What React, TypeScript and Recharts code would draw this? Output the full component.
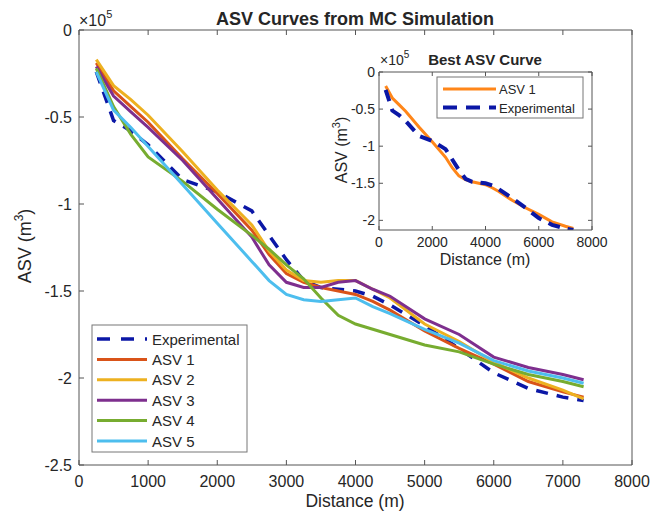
import { LineChart, Line, XAxis, YAxis } from "recharts";

// distances along the profile (m) and ASV values in units of 1e5 m^3
const distance = [250, 500, 750, 1000, 1500, 2000, 2500, 2750, 3000, 3250, 3500, 3750, 4000, 4250, 4500, 5000, 5500, 6000, 6500, 7000, 7300];
const experimental = [-0.24, -0.52, -0.58, -0.66, -0.86, -0.93, -1.04, -1.18, -1.32, -1.44, -1.48, -1.49, -1.5, -1.53, -1.58, -1.7, -1.83, -1.97, -2.06, -2.11, -2.13];
const asv1 = [-0.19, -0.35, -0.44, -0.53, -0.74, -0.94, -1.15, -1.29, -1.4, -1.45, -1.48, -1.5, -1.52, -1.56, -1.61, -1.73, -1.83, -1.92, -2.02, -2.08, -2.11];
const asv2 = [-0.17, -0.32, -0.4, -0.49, -0.7, -0.92, -1.12, -1.27, -1.38, -1.44, -1.45, -1.44, -1.44, -1.49, -1.54, -1.69, -1.79, -1.91, -2.0, -2.07, -2.12];
const asv3 = [-0.21, -0.38, -0.47, -0.56, -0.75, -0.97, -1.19, -1.35, -1.45, -1.48, -1.48, -1.45, -1.44, -1.49, -1.53, -1.66, -1.75, -1.88, -1.94, -1.98, -2.01];
const asv4 = [-0.22, -0.44, -0.6, -0.73, -0.87, -1.03, -1.18, -1.26, -1.35, -1.43, -1.54, -1.64, -1.69, -1.72, -1.75, -1.81, -1.85, -1.92, -1.98, -2.02, -2.05];
const asv5 = [-0.24, -0.46, -0.56, -0.67, -0.89, -1.11, -1.33, -1.44, -1.52, -1.55, -1.56, -1.55, -1.54, -1.59, -1.63, -1.72, -1.8, -1.9, -1.96, -2.0, -2.03];

const xTicks = [0, 1000, 2000, 3000, 4000, 5000, 6000, 7000, 8000];
const yTicks = [0, -0.5, -1, -1.5, -2, -2.5];
const insetXTicks = [0, 2000, 4000, 6000, 8000];
const insetYTicks = [0, -0.5, -1, -1.5, -2];

const FONT = "'Liberation Sans', Arial, Helvetica, sans-serif";
const TEXT = "#262626";
const AXIS = "#555555";

const series = [
  { key: "exp", name: "Experimental", values: experimental, color: "#0B17A6", dash: "12 9" },
  { key: "asv1", name: "ASV 1", values: asv1, color: "#D95319" },
  { key: "asv2", name: "ASV 2", values: asv2, color: "#EDB120" },
  { key: "asv3", name: "ASV 3", values: asv3, color: "#7E2F8E" },
  { key: "asv4", name: "ASV 4", values: asv4, color: "#77AC30" },
  { key: "asv5", name: "ASV 5", values: asv5, color: "#4DBEEE" },
];

const insetSeries = [
  { key: "asv1", name: "ASV 1", values: asv1, color: "#FF8619" },
  { key: "exp", name: "Experimental", values: experimental, color: "#0B17A6", dash: "12 8" },
];

const rows = distance.map((d, i) => {
  const r: Record<string, number> = { d };
  series.forEach((s) => (r[s.key] = s.values[i]));
  return r;
});

const fmt = (v: number) => String(v);
const noTick = () => <g />;

function MainChart() {
  return (
    <LineChart width={668} height={521} data={rows} margin={{ top: 29, right: 35, bottom: 26, left: 19 }}>
      <XAxis dataKey="d" type="number" domain={[0, 8000]} ticks={xTicks} height={30}
        tickSize={-5} tickMargin={16} stroke={AXIS}
        tick={{ fontSize: 16, fill: TEXT, fontFamily: FONT }} />
      <XAxis xAxisId="top" orientation="top" dataKey="d" type="number" domain={[0, 8000]} ticks={xTicks}
        height={1} tickSize={-5} stroke={AXIS} tick={noTick} />
      <YAxis type="number" domain={[-2.5, 0]} ticks={yTicks} width={60} tickSize={-5} tickMargin={12}
        stroke={AXIS} tickFormatter={fmt} tick={{ fontSize: 16, fill: TEXT, fontFamily: FONT }} />
      <YAxis yAxisId="right" orientation="right" type="number" domain={[-2.5, 0]} ticks={yTicks}
        width={1} tickSize={-5} stroke={AXIS} tick={noTick} />
      {series.map((s) => (
        <Line key={s.key} dataKey={s.key} type="linear" stroke={s.color} strokeWidth={s.dash ? 3.5 : 3}
          strokeDasharray={s.dash} dot={false} activeDot={false} isAnimationActive={false} />
      ))}
    </LineChart>
  );
}

function InsetChart() {
  return (
    <LineChart width={285} height={222} data={rows} margin={{ top: 23, right: 27, bottom: 10, left: 4 }}>
      <XAxis dataKey="d" type="number" domain={[0, 8000]} ticks={insetXTicks} height={30}
        tickSize={-4} tickMargin={11} stroke={AXIS}
        tick={{ fontSize: 14, fill: TEXT, fontFamily: FONT }} />
      <XAxis xAxisId="top" orientation="top" dataKey="d" type="number" domain={[0, 8000]} ticks={insetXTicks}
        height={1} tickSize={-4} stroke={AXIS} tick={noTick} />
      <YAxis type="number" domain={[-2.13, 0]} ticks={insetYTicks} width={40} tickSize={-4} tickMargin={8}
        allowDataOverflow stroke={AXIS} tickFormatter={fmt}
        tick={{ fontSize: 14, fill: TEXT, fontFamily: FONT }} />
      <YAxis yAxisId="right" orientation="right" type="number" domain={[-2.13, 0]} ticks={insetYTicks}
        allowDataOverflow width={1} tickSize={-4} stroke={AXIS} tick={noTick} />
      {insetSeries.map((s) => (
        <Line key={s.key} dataKey={s.key} type="linear" stroke={s.color} strokeWidth={s.dash ? 4 : 3}
          strokeDasharray={s.dash} dot={false} activeDot={false} isAnimationActive={false} />
      ))}
    </LineChart>
  );
}

function Labels() {
  return (
    <svg width={668} height={521} style={{ position: "absolute", left: 0, top: 0, pointerEvents: "none" }}
      fontFamily={FONT} fill={TEXT}>
      {/* main chart text */}
      <text x={355} y={25} fontSize={18} fontWeight="bold" textAnchor="middle">ASV Curves from MC Simulation</text>
      <text x={79} y={26} fontSize={16}>×10<tspan fontSize={11} dy={-8}>5</tspan></text>
      <text x={355} y={507} fontSize={17.5} textAnchor="middle">Distance (m)</text>
      <text transform="translate(31,246) rotate(-90)" fontSize={18} textAnchor="middle">
        ASV (m<tspan fontSize={12} dy={-8}>3</tspan><tspan dy={8}>)</tspan>
      </text>

      {/* main legend */}
      <rect x={92} y={325} width={155} height={127} fill="#fff" stroke="#777" strokeWidth={1} />
      {series.map((s, i) => {
        const y = 339 + i * 20.4;
        return (
          <g key={s.key}>
            <line x1={97} x2={147} y1={y} y2={y} stroke={s.color} strokeWidth={s.dash ? 3.5 : 3}
              strokeDasharray={s.dash ? "13 11" : undefined} />
            <text x={152} y={y + 5.5} fontSize={15}>{s.name}</text>
          </g>
        );
      })}

      {/* inset text */}
      <text x={485} y={65} fontSize={15} fontWeight="bold" textAnchor="middle">Best ASV Curve</text>
      <text x={380} y={65} fontSize={14}>×10<tspan fontSize={10} dy={-7}>5</tspan></text>
      <text x={485} y={265} fontSize={16} textAnchor="middle">Distance (m)</text>
      <text transform="translate(347,150) rotate(-90)" fontSize={16} textAnchor="middle">
        ASV (m<tspan fontSize={11} dy={-7}>3</tspan><tspan dy={7}>)</tspan>
      </text>

      {/* inset legend */}
      <rect x={437} y={77} width={146} height={41} fill="#fff" stroke="#777" strokeWidth={1} />
      {insetSeries.map((s, i) => {
        const y = 89 + i * 18.5;
        return (
          <g key={s.key}>
            <line x1={443} x2={496} y1={y} y2={y} stroke={s.color} strokeWidth={s.dash ? 4 : 3}
              strokeDasharray={s.dash ? "14 9" : undefined} />
            <text x={499} y={y + 5} fontSize={13}>{s.name}</text>
          </g>
        );
      })}
    </svg>
  );
}

export default function App() {
  return (
    <div style={{ position: "absolute", left: 0, top: 0, width: 668, height: 521, background: "#fff" }}>
      <MainChart />
      <div style={{ position: "absolute", left: 335, top: 48 }}>
        <InsetChart />
      </div>
      <Labels />
    </div>
  );
}
